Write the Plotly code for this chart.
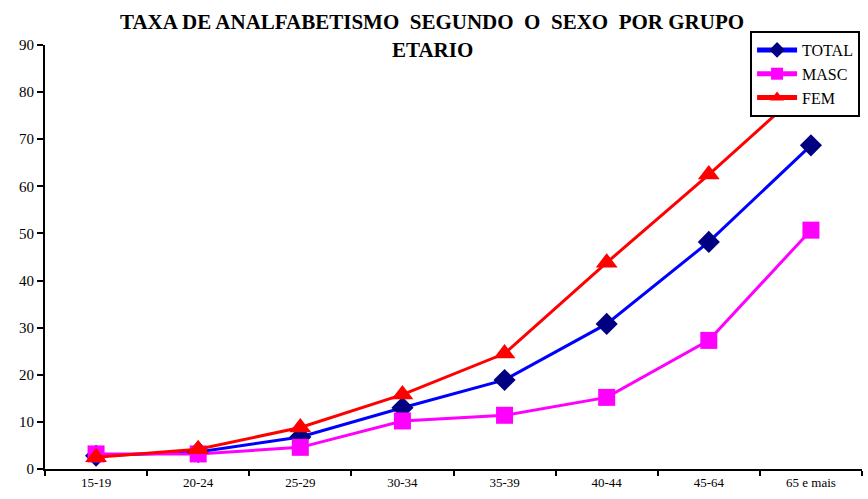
import plotly.graph_objects as go

categories = ["15-19", "20-24", "25-29", "30-34", "35-39", "40-44", "45-64", "65 e mais"]
total = [2.8, 3.6, 6.8, 13.0, 18.9, 30.8, 48.2, 68.7]
masc = [3.2, 3.2, 4.6, 10.2, 11.4, 15.2, 27.3, 50.7]
fem = [2.5, 4.2, 8.8, 15.8, 24.5, 43.8, 62.5, 82.0]

title_lines = ["TAXA DE ANALFABETISMO  SEGUNDO  O  SEXO  POR GRUPO", "ETARIO"]

fig = go.Figure()
fig.add_trace(go.Scatter(x=categories, y=total, name="TOTAL", mode="lines+markers",
                         legendgroup="a",
                         line=dict(color="#0000FF", width=3),
                         marker=dict(symbol="diamond", color="#000080", size=17)))
fig.add_trace(go.Scatter(x=categories, y=masc, name="MASC", mode="lines+markers",
                         legendgroup="b",
                         line=dict(color="#FF00FF", width=3),
                         marker=dict(symbol="square", color="#FF00FF", size=17)))
fig.add_trace(go.Scatter(x=categories, y=fem, name="FEM", mode="lines+markers",
                         legendgroup="c",
                         line=dict(color="#FF0000", width=3),
                         marker=dict(symbol="triangle-up", color="#FF0000", size=19)))

fig.update_layout(
    width=868, height=499,
    margin=dict(l=45, r=6, t=45, b=30),
    paper_bgcolor="white", plot_bgcolor="white",
    font=dict(family="Liberation Serif", color="black", size=13),
    legend=dict(x=0.863, y=1.033, xanchor="left", yanchor="top",
                bordercolor="black", borderwidth=2, bgcolor="white",
                font=dict(family="Liberation Serif", size=16, color="black"),
                itemsizing="constant", itemwidth=40, tracegroupgap=0,
                traceorder="grouped"),
    showlegend=True,
    annotations=[
        dict(text="<b>" + title_lines[0] + "</b>", xref="paper", yref="paper",
             x=(432 - 45) / 817, y=1 + 23 / 424, xanchor="center", yanchor="middle",
             showarrow=False, font=dict(family="Liberation Serif", size=21, color="black")),
        dict(text="<b>" + title_lines[1] + "</b>", xref="paper", yref="paper",
             x=(432 - 45) / 817, y=1 - 5 / 424, xanchor="center", yanchor="middle",
             showarrow=False, font=dict(family="Liberation Serif", size=21, color="black")),
    ],
)
fig.update_xaxes(type="category", range=[-0.5, 7.5], showline=True, linecolor="black",
                 linewidth=2, ticks="outside", tickson="boundaries", ticklen=5,
                 tickcolor="black", tickwidth=2, showgrid=False, zeroline=False,
                 tickfont=dict(size=13))
fig.update_yaxes(range=[0, 90], dtick=10, showline=True, linecolor="black", linewidth=2,
                 ticks="outside", ticklen=6, tickcolor="black", tickwidth=2,
                 showgrid=False, zeroline=False, tickfont=dict(size=15))

fig.write_html("out.html", config={"displayModeBar": False},
               post_script="document.body.style.margin='0';document.body.style.overflow='hidden';")
